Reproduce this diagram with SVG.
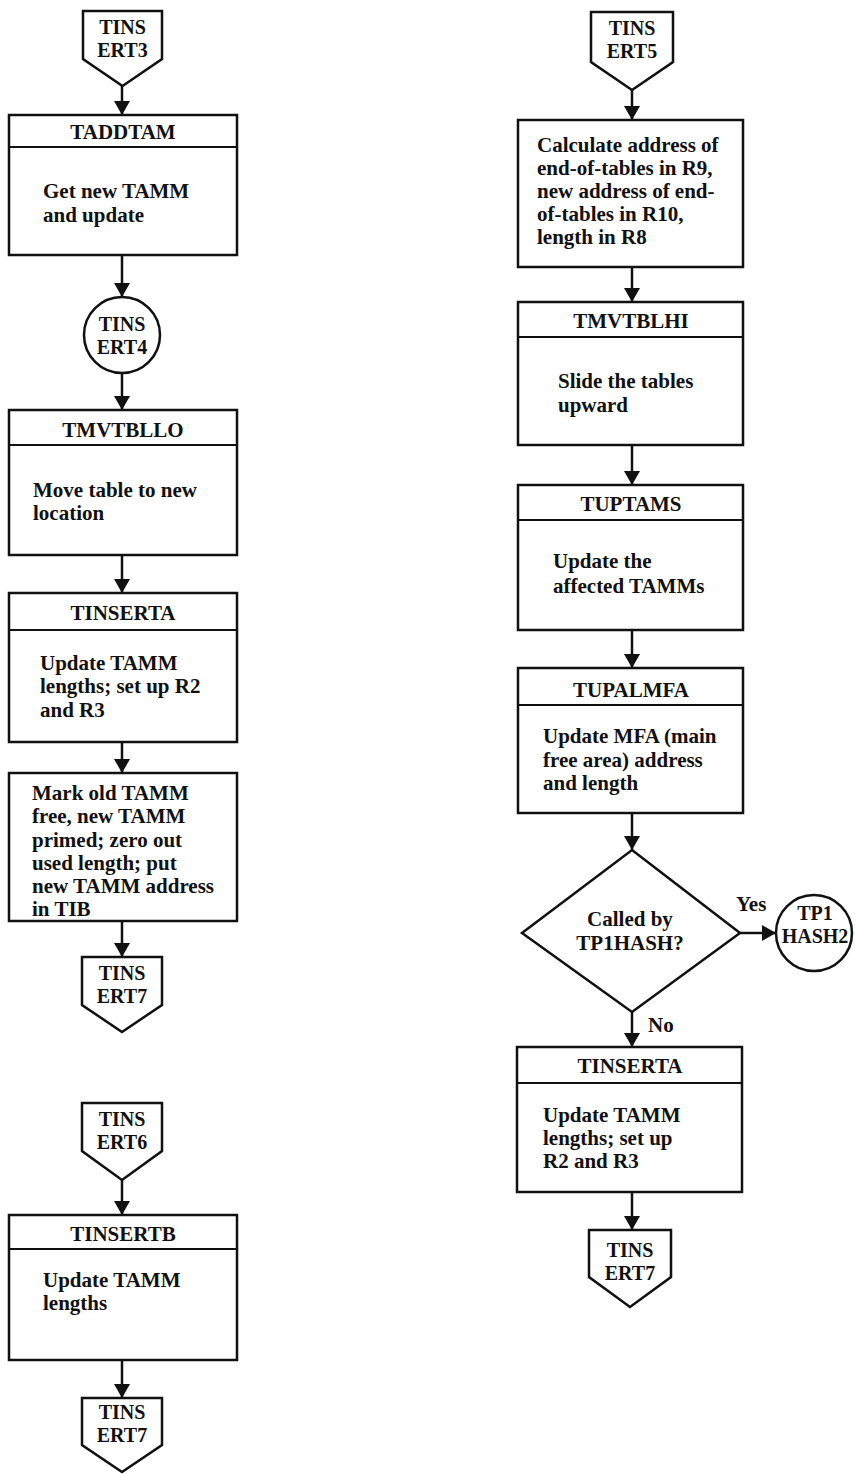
<svg xmlns="http://www.w3.org/2000/svg" width="855" height="1474" viewBox="0 0 855 1474">
<defs>
<style>
.s{fill:#fff;stroke:#111;stroke-width:2.5}
.d{stroke:#111;stroke-width:2;fill:none}
.t{font-family:"Liberation Serif","Times New Roman",serif;font-weight:bold;font-size:21px;fill:#111}
.k{font-size:20px}
.c{text-anchor:middle}
.e{stroke:#111;stroke-width:2.5;fill:none}
</style>
<marker id="ah" markerUnits="userSpaceOnUse" viewBox="0 0 14 16" refX="14" refY="8" markerWidth="14" markerHeight="16" orient="auto">
<path d="M0,0 L14,8 L0,16 z" fill="#111"/>
</marker>
</defs>
<rect width="855" height="1474" fill="#fff"/>

<g id="connectors">
<line class="e" x1="122" y1="86" x2="122" y2="115" marker-end="url(#ah)"/>
<line class="e" x1="122" y1="255" x2="122" y2="297" marker-end="url(#ah)"/>
<line class="e" x1="122" y1="373" x2="122" y2="410" marker-end="url(#ah)"/>
<line class="e" x1="122" y1="555" x2="122" y2="593" marker-end="url(#ah)"/>
<line class="e" x1="122" y1="742" x2="122" y2="773" marker-end="url(#ah)"/>
<line class="e" x1="122" y1="921" x2="122" y2="957" marker-end="url(#ah)"/>
<line class="e" x1="122" y1="1180" x2="122" y2="1215" marker-end="url(#ah)"/>
<line class="e" x1="122" y1="1360" x2="122" y2="1398" marker-end="url(#ah)"/>
<line class="e" x1="632" y1="90" x2="632" y2="120" marker-end="url(#ah)"/>
<line class="e" x1="632" y1="267" x2="632" y2="302" marker-end="url(#ah)"/>
<line class="e" x1="632" y1="445" x2="632" y2="485" marker-end="url(#ah)"/>
<line class="e" x1="632" y1="630" x2="632" y2="668" marker-end="url(#ah)"/>
<line class="e" x1="632" y1="813" x2="632" y2="850" marker-end="url(#ah)"/>
<line class="e" x1="740" y1="933" x2="776" y2="933" marker-end="url(#ah)"/>
<line class="e" x1="632" y1="1012" x2="632" y2="1047" marker-end="url(#ah)"/>
<line class="e" x1="632" y1="1192" x2="632" y2="1230" marker-end="url(#ah)"/>
<text class="t" x="736" y="911">Yes</text>
<text class="t" x="648" y="1032">No</text>
</g>

<g id="tinsert3">
<path class="s" d="M83,11 H162 V59 L122.5,86 L83,59 Z"/>
<text class="t k c" x="122.5" y="34">TINS</text>
<text class="t k c" x="122.5" y="57">ERT3</text>
</g>

<g id="taddtam">
<rect class="s" x="9" y="115" width="228" height="140"/>
<line class="d" x1="9" y1="147" x2="237" y2="147"/>
<text class="t c" x="123" y="139">TADDTAM</text>
<text class="t" x="43" y="198">Get new TAMM</text>
<text class="t" x="43" y="222">and update</text>
</g>

<g id="tinsert4">
<circle class="s" cx="122" cy="335" r="38"/>
<text class="t k c" x="122" y="331">TINS</text>
<text class="t k c" x="122" y="354">ERT4</text>
</g>

<g id="tmvtbllo">
<rect class="s" x="9" y="410" width="228" height="145"/>
<line class="d" x1="9" y1="445" x2="237" y2="445"/>
<text class="t c" x="123" y="437">TMVTBLLO</text>
<text class="t" x="33" y="497">Move table to new</text>
<text class="t" x="33" y="520">location</text>
</g>

<g id="tinserta-left">
<rect class="s" x="9" y="593" width="228" height="149"/>
<line class="d" x1="9" y1="630" x2="237" y2="630"/>
<text class="t c" x="123" y="620">TINSERTA</text>
<text class="t" x="40" y="670">Update TAMM</text>
<text class="t" x="40" y="693">lengths; set up R2</text>
<text class="t" x="40" y="717">and R3</text>
</g>

<g id="markold">
<rect class="s" x="9" y="773" width="228" height="148"/>
<text class="t" x="32" y="800">Mark old TAMM</text>
<text class="t" x="32" y="823">free, new TAMM</text>
<text class="t" x="32" y="847">primed; zero out</text>
<text class="t" x="32" y="870">used length; put</text>
<text class="t" x="32" y="893">new TAMM address</text>
<text class="t" x="32" y="916">in TIB</text>
</g>

<g id="tinsert7-left">
<path class="s" d="M82,957 H162 V1005 L122,1032 L82,1005 Z"/>
<text class="t k c" x="122" y="980">TINS</text>
<text class="t k c" x="122" y="1003">ERT7</text>
</g>

<g id="tinsert6">
<path class="s" d="M82,1103 H162 V1151 L122,1180 L82,1151 Z"/>
<text class="t k c" x="122" y="1126">TINS</text>
<text class="t k c" x="122" y="1149">ERT6</text>
</g>

<g id="tinsertb">
<rect class="s" x="9" y="1215" width="228" height="145"/>
<line class="d" x1="9" y1="1249" x2="237" y2="1249"/>
<text class="t c" x="123" y="1241">TINSERTB</text>
<text class="t" x="43" y="1287">Update TAMM</text>
<text class="t" x="43" y="1310">lengths</text>
</g>

<g id="tinsert7-left2">
<path class="s" d="M82,1398 H162 V1445 L122,1472 L82,1445 Z"/>
<text class="t k c" x="122" y="1419">TINS</text>
<text class="t k c" x="122" y="1442">ERT7</text>
</g>

<g id="tinsert5">
<path class="s" d="M591,12 H673 V62 L632,90 L591,62 Z"/>
<text class="t k c" x="632" y="35">TINS</text>
<text class="t k c" x="632" y="58">ERT5</text>
</g>

<g id="calc">
<rect class="s" x="518" y="120" width="225" height="147"/>
<text class="t" x="537" y="152">Calculate address of</text>
<text class="t" x="537" y="175">end-of-tables in R9,</text>
<text class="t" x="537" y="198">new address of end-</text>
<text class="t" x="537" y="221">of-tables in R10,</text>
<text class="t" x="537" y="244">length in R8</text>
</g>

<g id="tmvtblhi">
<rect class="s" x="518" y="302" width="225" height="143"/>
<line class="d" x1="518" y1="337" x2="743" y2="337"/>
<text class="t c" x="631" y="328">TMVTBLHI</text>
<text class="t" x="558" y="388">Slide the tables</text>
<text class="t" x="558" y="412">upward</text>
</g>

<g id="tuptams">
<rect class="s" x="518" y="485" width="225" height="145"/>
<line class="d" x1="518" y1="520" x2="743" y2="520"/>
<text class="t c" x="631" y="511">TUPTAMS</text>
<text class="t" x="553" y="568">Update the</text>
<text class="t" x="553" y="593">affected TAMMs</text>
</g>

<g id="tupalmfa">
<rect class="s" x="518" y="668" width="225" height="145"/>
<line class="d" x1="518" y1="705" x2="743" y2="705"/>
<text class="t c" x="631" y="697">TUPALMFA</text>
<text class="t" x="543" y="743">Update MFA (main</text>
<text class="t" x="543" y="767">free area) address</text>
<text class="t" x="543" y="790">and length</text>
</g>

<g id="decision">
<path class="s" d="M632,850 L740,933 L632,1012 L522,933 Z"/>
<text class="t c" x="630" y="926">Called by</text>
<text class="t c" x="630" y="950">TP1HASH?</text>
</g>

<g id="tp1hash2">
<circle class="s" cx="814" cy="933" r="38"/>
<text class="t k c" x="815" y="920">TP1</text>
<text class="t k c" x="815" y="943">HASH2</text>
</g>

<g id="tinserta-right">
<rect class="s" x="517" y="1047" width="225" height="145"/>
<line class="d" x1="517" y1="1083" x2="742" y2="1083"/>
<text class="t c" x="630" y="1073">TINSERTA</text>
<text class="t" x="543" y="1122">Update TAMM</text>
<text class="t" x="543" y="1145">lengths; set up</text>
<text class="t" x="543" y="1168">R2 and R3</text>
</g>

<g id="tinsert7-right">
<path class="s" d="M589,1230 H671 V1277 L630,1307 L589,1277 Z"/>
<text class="t k c" x="630" y="1257">TINS</text>
<text class="t k c" x="630" y="1280">ERT7</text>
</g>
</svg>
